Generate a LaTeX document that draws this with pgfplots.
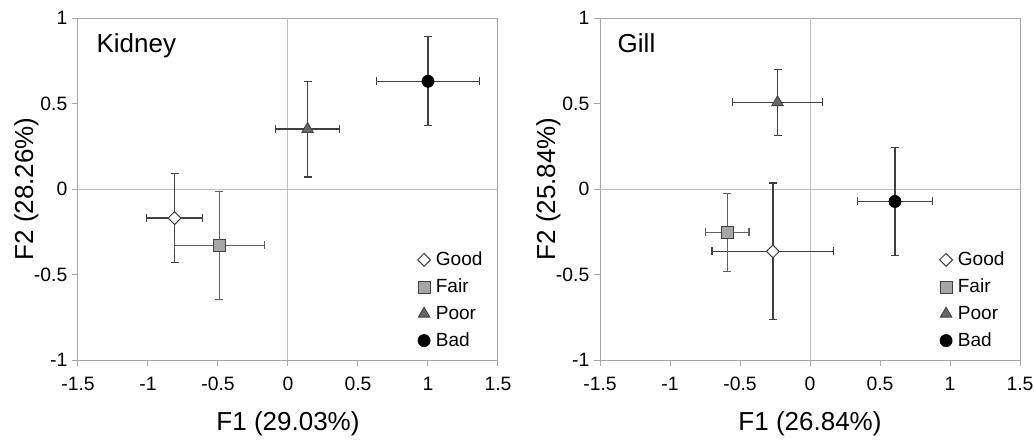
\documentclass[border=0pt]{standalone}
\usepackage{pgfplots}
\pgfplotsset{compat=1.18}
\usepackage{fontspec}
\setmainfont{Liberation Sans}

\definecolor{axgray}{HTML}{A6A6A6}
\definecolor{ltgray}{HTML}{BFBFBF}
\definecolor{bargray}{HTML}{404040}
\definecolor{fairbar}{HTML}{606060}
\definecolor{fairfill}{HTML}{A6A6A6}
\definecolor{poorfill}{HTML}{666666}

\pgfplotsset{
  pca/.style={
    scale only axis, width=315pt, height=256.5pt,
    xmin=-1.5, xmax=1.5, ymin=-1, ymax=1,
    xtick={-1.5,-1,-0.5,0,0.5,1,1.5}, xticklabels={-1.5,-1,-0.5,0,0.5,1,1.5},
    ytick={-1,-0.5,0,0.5,1}, yticklabels={-1,-0.5,0,0.5,1},
    xtick pos=left, ytick pos=left,
    axis line style={axgray, line width=0.75pt},
    tick align=outside, major tick length=4.5pt,
    tick style={axgray, line width=0.75pt},
    ticklabel style={font=\fontsize{14.5}{17}\selectfont},
    xticklabel style={yshift=-5pt},
    label style={font=\fontsize{19.5}{22}\selectfont},
    xlabel style={at={(axis description cs:0.5,-0.205)}, anchor=base},
    ylabel style={at={(axis description cs:-0.107,0.5)}, anchor=base},
    legend style={at={(0.97,0.025)}, anchor=south east, draw=none, fill=none,
      font=\fontsize{14.3}{17}\selectfont, row sep=4.5pt, column sep=2pt, inner sep=0pt},
    legend cell align=left,
    error bars/y dir=both, error bars/y explicit,
    error bars/x dir=both, error bars/x explicit,
    error bars/error bar style={bargray, line width=1pt},
    error bars/error mark options={rotate=90, bargray, line width=1pt, mark size=3pt},
  },
  good/.style={only marks, mark=square*, mark size=3.4pt,
    mark options={rotate=45, fill=white, draw=bargray, line width=0.75pt}},
  fair/.style={only marks, mark=square*, mark size=4.5pt,
    mark options={fill=fairfill, draw=bargray, line width=0.75pt},
    error bars/error bar style={fairbar, line width=1pt},
    error bars/error mark options={rotate=90, fairbar, line width=1pt, mark size=3pt}},
  poor/.style={only marks, mark=triangle*, mark size=5pt,
    mark options={fill=poorfill, draw=bargray, line width=0.6pt}},
  bad/.style={only marks, mark=*, mark size=4.6pt,
    mark options={fill=black, draw=black}},
}

\begin{document}
\begin{tikzpicture}
\path[use as bounding box] (-58.5pt,-60pt) rectangle (717.75pt,270pt);

% Kidney
\begin{axis}[pca, xlabel={F1 (29.03\%)}, ylabel={F2 (28.26\%)}]
  \draw[ltgray, line width=0.75pt] (axis cs:0,-1) -- (axis cs:0,1);
  \draw[ltgray, line width=0.75pt] (axis cs:-1.5,0) -- (axis cs:1.5,0);
  \addplot[good] coordinates {(-0.81,-0.17) +- (0.20,0.26)};
  \addplot[fair] coordinates {(-0.49,-0.33) +- (0.32,0.315)};
  \addplot[poor] coordinates {(0.14,0.35) +- (0.227,0.28)};
  \addplot[bad]  coordinates {(1.00,0.63) +- (0.37,0.26)};
  \legend{Good,Fair,Poor,Bad}
  \node[anchor=base west, font=\fontsize{19.5}{22}\selectfont] at (rel axis cs:0.033,0.90) {Kidney};
\end{axis}

% Gill
\begin{axis}[pca, at={(391.5pt,0)}, xlabel={F1 (26.84\%)}, ylabel={F2 (25.84\%)}]
  \draw[ltgray, line width=0.75pt] (axis cs:0,-1) -- (axis cs:0,1);
  \draw[ltgray, line width=0.75pt] (axis cs:-1.5,0) -- (axis cs:1.5,0);
  \addplot[good] coordinates {(-0.265,-0.365) +- (0.435,0.40)};
  \addplot[fair] coordinates {(-0.59,-0.253) +- (0.155,0.228)};
  \addplot[poor] coordinates {(-0.232,0.507) +- (0.32,0.193)};
  \addplot[bad]  coordinates {(0.607,-0.073) +- (0.267,0.317)};
  \legend{Good,Fair,Poor,Bad}
  \node[anchor=base west, font=\fontsize{19.5}{22}\selectfont] at (rel axis cs:0.031,0.90) {Gill};
\end{axis}
\end{tikzpicture}
\end{document}
